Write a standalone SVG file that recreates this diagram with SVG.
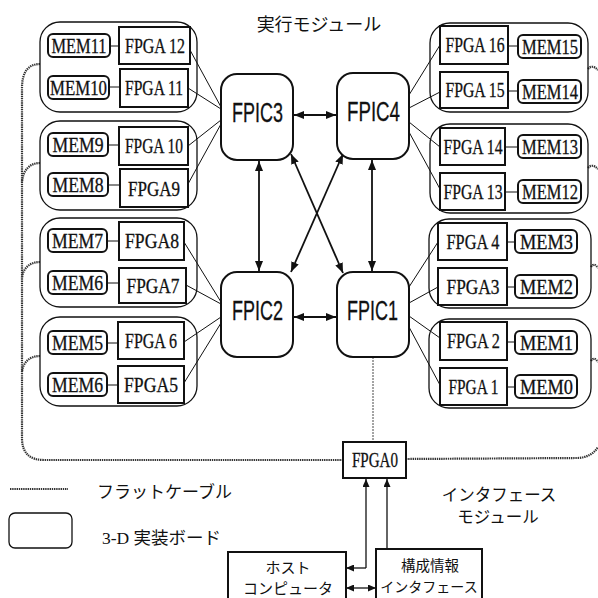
<svg xmlns="http://www.w3.org/2000/svg" width="598" height="598" viewBox="0 0 598 598">
<style>
.bg{fill:#fff}
.board{fill:none;stroke:#111;stroke-width:1.3}
.box{fill:#fff;stroke:#111;stroke-width:2}
.fpic{fill:#fff;stroke:#111;stroke-width:2}
.lbl{font-family:"Liberation Serif","Times New Roman",serif;font-size:20.5px;text-anchor:middle;fill:#111;stroke:#111;stroke-width:0.3}
.fp{font-family:"Liberation Sans",Arial,sans-serif;font-size:27px;text-anchor:middle;fill:#111;stroke:#111;stroke-width:0.3}
.jp{font-family:"Noto Sans CJK JP",sans-serif;fill:#111}
.wire{stroke:#111;stroke-width:1;fill:none}
.thin{stroke:#333;stroke-width:0.9;fill:none;stroke-dasharray:2 1}
.cable{stroke:#333;stroke-width:2.2;fill:none;stroke-dasharray:1.4 0.8}
.arr{stroke:#111;stroke-width:1.8;fill:none;marker-start:url(#ah);marker-end:url(#ah)}
.arr1{stroke:#111;stroke-width:1.3;fill:none;marker-end:url(#ahs)}
.arr2{stroke:#111;stroke-width:1.3;fill:none;marker-start:url(#ahs);marker-end:url(#ahs)}
</style>
<defs>
<marker id="ah" viewBox="0 0 10 8" refX="10" refY="4" markerWidth="10" markerHeight="8" markerUnits="userSpaceOnUse" orient="auto-start-reverse"><path d="M0,0 L10,4 L0,8 z" fill="#111"/></marker>
<marker id="ahs" viewBox="0 0 8 7" refX="8" refY="3.5" markerWidth="8" markerHeight="7" markerUnits="userSpaceOnUse" orient="auto-start-reverse"><path d="M0,0 L8,3.5 L0,7 z" fill="#111"/></marker>
</defs>
<rect class="bg" x="0" y="0" width="598" height="598"/>

<text class="jp" x="319" y="31" font-size="18" text-anchor="middle">実行モジュール</text>

<g id="connectors">
  <!-- flat cables -->
  <path class="cable" d="M40,64 C29,64 22,71 22,88 L22,438 Q22,460 44,460 L343,460"/>
  <path class="cable" d="M406,459 L578,458 Q592,457 598,447"/>
  <path class="cable" d="M40,163 C30,163 23,170 22,182"/>
  <path class="cable" d="M40,262 C30,262 23,268 22,278"/>
  <path class="cable" d="M40,356 C30,356 23,362 22,372"/>
  <path class="cable" d="M588,69 Q592,64 598,70"/>
  <path class="cable" d="M588,168 Q592,163 598,169"/>
  <path class="cable" d="M591,267 Q594,262 598,268"/>
  <path class="cable" d="M591,361 Q594,356 598,362"/>
  <!-- MEM - FPGA -->
  <path class="wire" d="M110,46 H119 M109,87 H120 M108,145 H119 M108,185 H120 M107,241 H119 M107,283 H119 M107,343 H118 M107,385 H118"/>
  <path class="wire" d="M508,46 H518 M508,91 H518 M505,147 H518 M505,192 H518 M507,242 H515 M507,287 H515 M507,342 H515 M507,387 H515"/>
  <!-- FPGA - FPIC -->
  <path class="wire" d="M190,50 L221,107 M188,88 L221,109 M188,146 L221,120 M188,184 L221,124"/>
  <path class="wire" d="M184,242 L221,302 M186,285 L221,304 M184,342 L221,317 M184,383 L221,323"/>
  <path class="wire" d="M409,95 L440,45 M409,108 L440,92 M409,122 L440,147 M409,132 L440,189"/>
  <path class="wire" d="M409,287 L438,242 M409,303 L438,287 M409,316 L440,338 M409,327 L440,385"/>
  <!-- FPIC interconnect -->
  <line class="arr" x1="294" y1="115" x2="336" y2="115"/>
  <line class="arr" x1="294" y1="317" x2="336" y2="317"/>
  <line class="arr" x1="259" y1="161" x2="259" y2="271"/>
  <line class="arr" x1="372" y1="160" x2="372" y2="271"/>
  <line class="arr" x1="291" y1="154" x2="343" y2="273"/>
  <line class="arr" x1="343" y1="154" x2="291" y2="272"/>
  <!-- FPIC1 to FPGA0 -->
  <line class="thin" x1="373" y1="357" x2="373" y2="442"/>
  <!-- host / config to FPGA0 -->
  <path class="arr1" d="M366,568 V479"/>
  <path class="arr1" d="M366,568 H346"/>
  <path class="arr1" d="M387,549 V479"/>
  <line class="arr2" x1="346" y1="588" x2="376" y2="588"/>
</g>

<g id="board1"><rect class="board" x="40" y="22" width="157" height="90" rx="20"/></g>
<g id="board2"><rect class="board" x="40" y="121" width="157" height="89" rx="20"/></g>
<g id="board3"><rect class="board" x="40" y="218" width="157" height="89" rx="20"/></g>
<g id="board4"><rect class="board" x="40" y="317" width="157" height="89" rx="20"/></g>
<g id="board5"><rect class="board" x="430" y="23" width="158" height="89" rx="20"/></g>
<g id="board6"><rect class="board" x="430" y="124" width="158" height="89" rx="20"/></g>
<g id="board7"><rect class="board" x="429" y="219" width="162" height="89" rx="20"/></g>
<g id="board8"><rect class="board" x="429" y="319" width="162" height="89" rx="20"/></g>

<g id="mem11"><rect class="box" x="48" y="34" width="62" height="23" rx="5"/><text class="lbl" x="79" y="52.5" textLength="55" lengthAdjust="spacingAndGlyphs">MEM11</text></g>
<g id="fpga12"><rect class="box" x="119" y="27" width="71" height="37"/><text class="lbl" x="155" y="53" textLength="60" lengthAdjust="spacingAndGlyphs">FPGA 12</text></g>
<g id="mem10"><rect class="box" x="48" y="76" width="61" height="23" rx="5"/><text class="lbl" x="78.5" y="94.5" textLength="57" lengthAdjust="spacingAndGlyphs">MEM10</text></g>
<g id="fpga11"><rect class="box" x="120" y="69" width="68" height="38"/><text class="lbl" x="154" y="95" textLength="58" lengthAdjust="spacingAndGlyphs">FPGA 11</text></g>
<g id="mem9"><rect class="box" x="48" y="133" width="60" height="23" rx="5"/><text class="lbl" x="78" y="151.5" textLength="51" lengthAdjust="spacingAndGlyphs">MEM9</text></g>
<g id="fpga10"><rect class="box" x="119" y="127" width="69" height="38"/><text class="lbl" x="154" y="153" textLength="58" lengthAdjust="spacingAndGlyphs">FPGA 10</text></g>
<g id="mem8"><rect class="box" x="48" y="173" width="60" height="23" rx="5"/><text class="lbl" x="78" y="191.5" textLength="51" lengthAdjust="spacingAndGlyphs">MEM8</text></g>
<g id="fpga9"><rect class="box" x="120" y="169" width="68" height="38"/><text class="lbl" x="154" y="196" textLength="52" lengthAdjust="spacingAndGlyphs">FPGA9</text></g>

<g id="mem7"><rect class="box" x="48" y="229" width="59" height="23" rx="5"/><text class="lbl" x="77.5" y="247.5" textLength="51" lengthAdjust="spacingAndGlyphs">MEM7</text></g>
<g id="fpga8"><rect class="box" x="119" y="222" width="65" height="38"/><text class="lbl" x="152" y="248" textLength="54" lengthAdjust="spacingAndGlyphs">FPGA8</text></g>
<g id="mem6"><rect class="box" x="48" y="271" width="59" height="23" rx="5"/><text class="lbl" x="77.5" y="289.5" textLength="51" lengthAdjust="spacingAndGlyphs">MEM6</text></g>
<g id="fpga7"><rect class="box" x="119" y="268" width="67" height="35"/><text class="lbl" x="153" y="293" textLength="53" lengthAdjust="spacingAndGlyphs">FPGA7</text></g>
<g id="mem5"><rect class="box" x="48" y="331" width="59" height="23" rx="5"/><text class="lbl" x="77.5" y="349.5" textLength="51" lengthAdjust="spacingAndGlyphs">MEM5</text></g>
<g id="fpga6"><rect class="box" x="118" y="322" width="66" height="37"/><text class="lbl" x="151" y="347.5" textLength="52" lengthAdjust="spacingAndGlyphs">FPGA 6</text></g>
<g id="mem6b"><rect class="box" x="48" y="373" width="59" height="23" rx="5"/><text class="lbl" x="77.5" y="391.5" textLength="51" lengthAdjust="spacingAndGlyphs">MEM6</text></g>
<g id="fpga5"><rect class="box" x="118" y="366" width="66" height="37"/><text class="lbl" x="151" y="392" textLength="54" lengthAdjust="spacingAndGlyphs">FPGA5</text></g>

<g id="fpga16"><rect class="box" x="440" y="26" width="68" height="38"/><text class="lbl" x="475" y="52" textLength="59" lengthAdjust="spacingAndGlyphs">FPGA 16</text></g>
<g id="mem15"><rect class="box" x="518" y="35" width="63" height="23" rx="5"/><text class="lbl" x="550" y="53.5" textLength="56" lengthAdjust="spacingAndGlyphs">MEM15</text></g>
<g id="fpga15"><rect class="box" x="440" y="72" width="68" height="36"/><text class="lbl" x="475" y="97" textLength="59" lengthAdjust="spacingAndGlyphs">FPGA 15</text></g>
<g id="mem14"><rect class="box" x="518" y="80" width="63" height="23" rx="5"/><text class="lbl" x="550" y="98.5" textLength="56" lengthAdjust="spacingAndGlyphs">MEM14</text></g>
<g id="fpga14"><rect class="box" x="440" y="128" width="65" height="37"/><text class="lbl" x="473" y="153.5" textLength="59" lengthAdjust="spacingAndGlyphs">FPGA 14</text></g>
<g id="mem13"><rect class="box" x="518" y="135" width="63" height="23" rx="5"/><text class="lbl" x="550" y="153.5" textLength="56" lengthAdjust="spacingAndGlyphs">MEM13</text></g>
<g id="fpga13"><rect class="box" x="440" y="173" width="65" height="37"/><text class="lbl" x="473" y="198.5" textLength="59" lengthAdjust="spacingAndGlyphs">FPGA 13</text></g>
<g id="mem12"><rect class="box" x="518" y="180" width="63" height="23" rx="5"/><text class="lbl" x="550" y="198.5" textLength="56" lengthAdjust="spacingAndGlyphs">MEM12</text></g>

<g id="fpga4"><rect class="box" x="438" y="223" width="69" height="37"/><text class="lbl" x="473" y="248.5" textLength="53" lengthAdjust="spacingAndGlyphs">FPGA 4</text></g>
<g id="mem3"><rect class="box" x="515" y="230" width="62" height="23" rx="5"/><text class="lbl" x="546.5" y="248.5" textLength="53" lengthAdjust="spacingAndGlyphs">MEM3</text></g>
<g id="fpga3"><rect class="box" x="438" y="268" width="69" height="37"/><text class="lbl" x="473" y="293.5" textLength="53" lengthAdjust="spacingAndGlyphs">FPGA3</text></g>
<g id="mem2"><rect class="box" x="515" y="275" width="62" height="23" rx="5"/><text class="lbl" x="546.5" y="293.5" textLength="53" lengthAdjust="spacingAndGlyphs">MEM2</text></g>
<g id="fpga2"><rect class="box" x="440" y="322" width="67" height="38"/><text class="lbl" x="473.5" y="348" textLength="53" lengthAdjust="spacingAndGlyphs">FPGA 2</text></g>
<g id="mem1"><rect class="box" x="515" y="331" width="62" height="23" rx="5"/><text class="lbl" x="546.5" y="349.5" textLength="53" lengthAdjust="spacingAndGlyphs">MEM1</text></g>
<g id="fpga1"><rect class="box" x="440" y="368" width="67" height="37"/><text class="lbl" x="473.5" y="393.5" textLength="50" lengthAdjust="spacingAndGlyphs">FPGA 1</text></g>
<g id="mem0"><rect class="box" x="515" y="375" width="62" height="23" rx="5"/><text class="lbl" x="546.5" y="393.5" textLength="53" lengthAdjust="spacingAndGlyphs">MEM0</text></g>

<g id="fpic3"><rect class="fpic" x="221" y="74" width="72" height="86" rx="16"/><text class="fp" x="257.5" y="122" textLength="51" lengthAdjust="spacingAndGlyphs">FPIC3</text></g>
<g id="fpic4"><rect class="fpic" x="337" y="73" width="72" height="86" rx="16"/><text class="fp" x="373.5" y="121" textLength="53" lengthAdjust="spacingAndGlyphs">FPIC4</text></g>
<g id="fpic2"><rect class="fpic" x="221" y="272" width="72" height="85" rx="16"/><text class="fp" x="257.5" y="320" textLength="51" lengthAdjust="spacingAndGlyphs">FPIC2</text></g>
<g id="fpic1"><rect class="fpic" x="337" y="272" width="72" height="85" rx="16"/><text class="fp" x="372.5" y="320" textLength="51" lengthAdjust="spacingAndGlyphs">FPIC1</text></g>

<g id="fpga0"><rect class="box" x="343" y="442" width="63" height="36"/><text class="lbl" x="375" y="467" textLength="46" lengthAdjust="spacingAndGlyphs">FPGA0</text></g>

<g id="host"><rect class="box" x="228" y="552" width="118" height="52"/><text class="jp" x="288" y="573" font-size="15" text-anchor="middle">ホスト</text><text class="jp" x="288" y="594" font-size="15" text-anchor="middle">コンピュータ</text></g>
<g id="config"><rect class="box" x="376" y="549" width="106" height="55"/><text class="jp" x="430" y="571" font-size="14.5" text-anchor="middle">構成情報</text><text class="jp" x="429" y="592" font-size="14" text-anchor="middle">インタフェース</text></g>

<g id="iface-label"><text class="jp" x="499" y="501" font-size="16.5" text-anchor="middle">インタフェース</text><text class="jp" x="498" y="523" font-size="16.5" text-anchor="middle">モジュール</text></g>

<g id="legend">
  <line class="cable" x1="10" y1="489" x2="68" y2="489"/>
  <text class="jp" x="97" y="498" font-size="17">フラットケーブル</text>
  <rect class="board" x="9" y="513" width="63" height="35" rx="6"/>
  <text class="jp" x="102" y="544" font-size="17.5"><tspan font-family="Liberation Serif,serif">3-D </tspan>実装ボード</text>
</g>
</svg>
